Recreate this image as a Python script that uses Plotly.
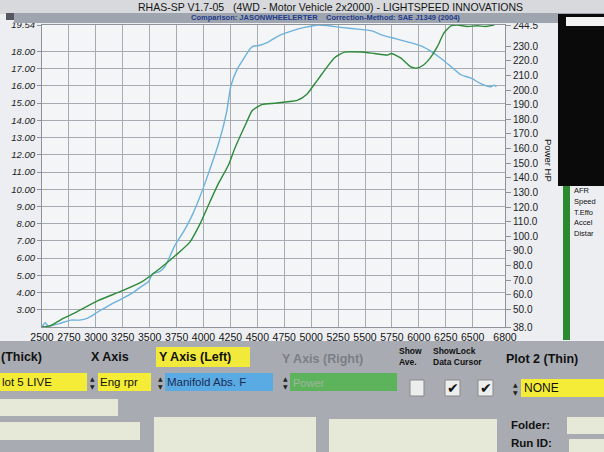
import plotly.graph_objects as go

# ---------------- data ----------------
rpm_power = [2500, 2581, 2700, 2814, 3020, 3253, 3430, 3612, 3742, 3873, 3971, 4062, 4131,
             4233, 4290, 4400, 4453, 4540, 4663, 4780, 4870, 4958, 5030, 5100, 5215, 5310,
             5466, 5589, 5708, 5745, 5831, 5921, 5975, 6040, 6106, 6174, 6232, 6301, 6357,
             6450, 6543, 6620, 6700]
power_hp = [38.0, 39, 44, 48, 56, 63, 69, 79, 87, 96, 109, 124, 135,
            149, 160, 178, 186, 190, 191, 192, 193, 197, 204, 211, 222, 226,
            226, 225, 224, 225, 222, 216, 215, 217, 222, 230, 239, 244, 244.5,
            243.5, 244, 243.5, 244.5]

rpm_map = [2500, 2530, 2557, 2600, 2662, 2768, 2849, 2919, 3025, 3125, 3225, 3334, 3411, 3488,
           3529, 3587, 3641, 3731, 3826, 3903, 3963, 4042, 4142, 4215, 4254, 4311, 4375,
           4420, 4458, 4513, 4600, 4693, 4822, 4940, 5063, 5155, 5275, 5431, 5564, 5661,
           5781, 5900, 6029, 6128, 6215, 6303, 6390, 6485, 6570, 6666, 6700, 6720]
map_values = [2.0, 2.25, 2.05, 2.1, 2.2, 2.4, 2.4, 2.5, 2.9, 3.26, 3.58, 3.95, 4.3, 4.63,
              5.1, 5.2, 5.5, 6.7, 7.66, 8.6, 9.5, 10.85, 12.7, 14.5, 16.0, 16.95, 17.6,
              18.05, 18.3, 18.35, 18.55, 18.9, 19.2, 19.4, 19.54, 19.5, 19.4, 19.3, 19.2, 18.95,
              18.75, 18.55, 18.3, 17.95, 17.55, 17.1, 16.65, 16.45, 16.15, 15.95, 16.05, 15.95]

x_tickvals = [2500, 2750, 3000, 3250, 3500, 3750, 4000, 4250, 4500, 4750, 5000, 5250,
              5500, 5750, 6000, 6250, 6500, 6800]
left_tickvals = [3, 4, 5, 6, 7, 8, 9, 10, 11, 12, 13, 14, 15, 16, 17, 18, 19.54]
right_tickvals = [38.0, 50, 60, 70, 80, 90, 100, 110, 120, 130, 140, 150, 160, 170, 180,
                  190, 200, 210, 220, 230, 244.5]

title_text = "RHAS-SP V1.7-05   (4WD - Motor Vehicle 2x2000) - LIGHTSPEED INNOVATIONS"
subtitle_text = "Comparison: JASONWHEELERTER    Correction-Method: SAE J1349 (2004)"
legend_items = ["AFR", "Speed", "T.Effo", "Accel", "Distar"]

# ---------------- helpers ----------------
W, H = 604, 452
FONT = "Liberation Sans, Arial, sans-serif"


def X(px):
    return px / W


def Y(py):
    return 1 - py / H


shapes = []
annotations = []


def rect(x0, y0, x1, y1, fill, line=None, lw=0):
    shapes.append(dict(type="rect", xref="paper", yref="paper",
                       x0=X(x0), x1=X(x1), y0=Y(y1), y1=Y(y0),
                       fillcolor=fill, line=dict(color=line or fill, width=lw)))


def text(x, y, s, size=11, color="#111", bold=False, anchor="left", angle=0,
         family=FONT, bg=None):
    if bold:
        s = "<b>" + s + "</b>"
    annotations.append(dict(xref="paper", yref="paper", x=X(x), y=Y(y), text=s,
                            showarrow=False, xanchor=anchor, yanchor="middle",
                            textangle=angle, bgcolor=bg, borderpad=0,
                            font=dict(size=size, color=color, family=family)))


def updown(x, y):
    text(x, y - 4, "▲", size=6, anchor="center", color="#222", family="DejaVu Sans")
    text(x, y + 4, "▼", size=6, anchor="center", color="#222", family="DejaVu Sans")


# ---------------- figure ----------------
fig = go.Figure()
fig.add_trace(go.Scatter(x=rpm_map, y=map_values, mode="lines", yaxis="y",
                         name="Manifold Abs. P",
                         line=dict(color="#6eb2dc", width=1.4, shape="spline", smoothing=0.6)))
fig.add_trace(go.Scatter(x=rpm_power, y=power_hp, mode="lines", yaxis="y2",
                         name="Power",
                         line=dict(color="#2e8a3a", width=1.4, shape="spline", smoothing=0.6)))

# header
rect(0, 0, 604, 14, "#d7d9dc")
rect(14, 13, 604, 23, "#9ea5ae")
rect(6, 13, 14, 20, "#55595f")
text(330, 7, title_text, size=10.5, color="#151515", anchor="center")
text(325, 18, subtitle_text, size=7.5, color="#1d3a8c", bold=True, anchor="center")

# right black panel & legend strip
rect(558, 14, 604, 186, "#0a0a0a")
rect(566, 17, 604, 26, "#f2f2f2")
rect(563, 186, 570, 340, "#2b8a2f")
for i, s in enumerate(legend_items):
    text(573, 191 + i * 10.5, s, size=7.5, color="#111")

# right axis title
text(549, 160, "Power HP", size=9.5, color="#111", anchor="center", angle=90)

# bottom control panel
rect(0, 341, 604, 452, "#a8acb2")
text(0, 357, "(Thick)", size=12.5, bold=True)
text(90, 357, "X Axis", size=12.5, bold=True)
rect(156, 347, 250, 367, "#f2ea3a")
text(158, 357, "Y Axis (Left)", size=12.5, bold=True)
text(281, 359, "Y Axis (Right)", size=12.5, bold=True, color="#7b7f85")
text(398, 351, "Show", size=8.5, bold=True)
text(398, 362, "Ave.", size=8.5, bold=True)
text(432, 351, "ShowLock", size=8.5, bold=True)
text(432, 362, "Data Cursor", size=8.5, bold=True)
text(505, 359, "Plot 2 (Thin)", size=12.5, bold=True)

rect(0, 373, 87, 391, "#f4ec36")
text(1, 382, "lot 5 LIVE", size=11.5)
updown(92, 382)
rect(98, 373, 151, 391, "#f4ec36")
text(99, 382, "Eng rpr", size=11.5)
updown(160, 382)
rect(165, 373, 273, 391, "#5aaae4")
text(166, 382, "Manifold Abs. F", size=11.5, color="#1a2d55")
updown(285, 382)
rect(290, 373, 397, 391, "#5cb35c")
text(292, 383, "Power", size=11, color="#9fb59f")
rect(410, 380, 424, 396, "#eceeee", "#888", 1)
rect(445, 380, 460, 396, "#eceeee", "#888", 1)
rect(478, 380, 493, 396, "#eceeee", "#888", 1)
text(452.5, 388, "✔", size=14, anchor="center", family="DejaVu Sans")
text(485.5, 388, "✔", size=14, anchor="center", family="DejaVu Sans")
updown(515, 388)
rect(521, 379, 604, 397, "#f4ec36")
text(523, 388, "NONE", size=12)

rect(0, 399, 118, 416, "#e6e9d8")
rect(0, 422, 140, 440, "#e6e9d8")
rect(154, 417, 316, 452, "#e6e9d8")
rect(329, 419, 497, 452, "#e6e9d8")
text(510, 425, "Folder:", size=11.5, bold=True)
rect(567, 417, 604, 434, "#e6e9d8")
text(510, 443, "Run ID:", size=11.5, bold=True)
rect(569, 439, 604, 452, "#e6e9d8")

grid = "#a6abb1"
fig.update_layout(
    width=W, height=H,
    margin=dict(l=0, r=0, t=0, b=0),
    paper_bgcolor="#eceef1",
    plot_bgcolor="#f3f5f7",
    showlegend=False,
    hovermode=False,
    font=dict(family=FONT, color="#111"),
    shapes=shapes,
    annotations=annotations,
    xaxis=dict(domain=[X(42), X(505)], range=[2500, 6800], anchor="y",
               tickvals=x_tickvals, ticktext=[str(v) for v in x_tickvals],
               showgrid=True, gridcolor=grid, gridwidth=1, zeroline=False,
               showline=True, linecolor="#8e939a", mirror=True, ticks="",
               tickfont=dict(size=10.5, color="#151515"), automargin=False),
    yaxis=dict(domain=[Y(327), Y(25)], range=[2.0, 19.54], anchor="x",
               tickvals=left_tickvals, ticktext=["%.2f" % v for v in left_tickvals],
               showgrid=True, gridcolor=grid, gridwidth=1, zeroline=False,
               showline=True, linecolor="#8e939a", ticks="outside", ticklen=4,
               tickcolor="#8e939a",
               tickfont=dict(size=9.5, color="#222", style="italic"), automargin=False),
    yaxis2=dict(overlaying="y", side="right", anchor="x", range=[38.0, 244.5],
                tickvals=right_tickvals, ticktext=["%.1f" % v for v in right_tickvals],
                showgrid=False, zeroline=False, showline=True, linecolor="#8e939a",
                ticks="outside", ticklen=5, tickcolor="#8e939a",
                tickfont=dict(size=10, color="#222"), automargin=False),
)

fig.write_html("out.html", config={"displayModeBar": False, "staticPlot": True},
               post_script="document.body.style.margin='0';document.body.style.overflow='hidden';")
